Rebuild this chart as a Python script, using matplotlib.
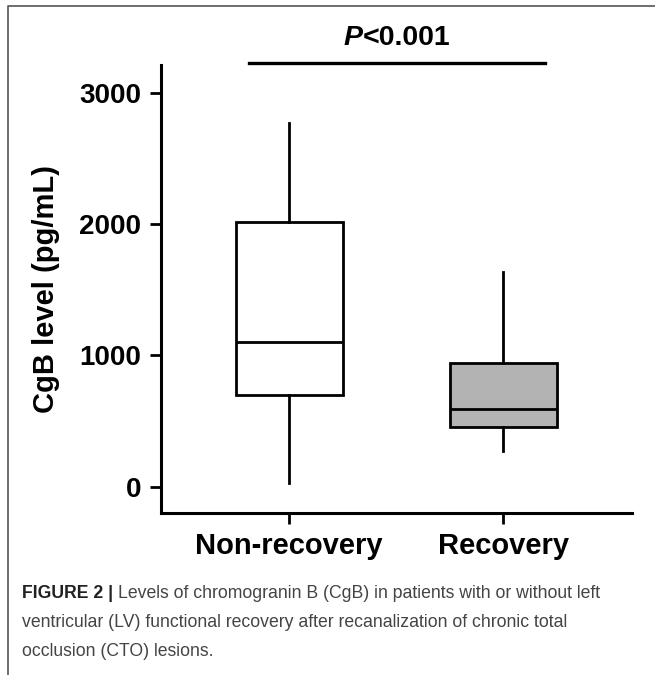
import matplotlib
matplotlib.use("Agg")
import matplotlib.pyplot as plt
from matplotlib import font_manager
from matplotlib.lines import Line2D
from matplotlib.transforms import offset_copy

# ------------------------------------------------------------
# Dados (CgB, pg/mL)
# ------------------------------------------------------------
groups = ["Non-recovery", "Recovery"]
q1 = [700, 455]
median = [1105, 595]
q3 = [2020, 940]
whislo = [30, 272]
whishi = [2770, 1633]
box_colors = ["white", "#b3b3b3"]

p_text = "<0.001"
ylabel = "CgB level (pg/mL)"
yticks = [0, 1000, 2000, 3000]
caption_bold = "FIGURE 2 | "
caption_lines = [
    "Levels of chromogranin B (CgB) in patients with or without left",
    "ventricular (LV) functional recovery after recanalization of chronic total",
    "occlusion (CTO) lesions.",
]

plt.rcParams["font.family"] = ["Liberation Sans", "DejaVu Sans"]

# fonte da legenda: versão estreita, se existir
nomes = {f.name for f in font_manager.fontManager.ttflist}
cap_family = "Liberation Sans Narrow" if "Liberation Sans Narrow" in nomes else "Liberation Sans"

fig = plt.figure(figsize=(6.55, 6.75), dpi=100)
ax = fig.add_axes([0.2453, 0.2404, 0.7191, 0.6633])

stats = []
for i in range(len(groups)):
    stats.append(dict(label=groups[i], q1=q1[i], med=median[i], q3=q3[i],
                      whislo=whislo[i], whishi=whishi[i], fliers=[]))

lw = 2.0
bp = ax.bxp(stats, positions=[1, 2], widths=0.5, patch_artist=True,
            showcaps=False, showfliers=False,
            boxprops=dict(linewidth=lw, edgecolor="black"),
            medianprops=dict(linewidth=lw, color="black"),
            whiskerprops=dict(linewidth=lw, color="black"))
for patch, c in zip(bp["boxes"], box_colors):
    patch.set_facecolor(c)

ax.set_xlim(0.40, 2.60)
ax.set_ylim(-198, 3212)
ax.set_yticks(yticks)
ax.set_yticklabels([str(t) for t in yticks], fontsize=20, fontweight="bold")
ax.set_xticks([1, 2])
ax.set_xticklabels(groups, fontsize=21, fontweight="bold")
ax.tick_params(axis="both", length=8, width=2, pad=6)
ax.set_ylabel(ylabel, fontsize=21, fontweight="bold", labelpad=14)

for s in ["top", "right"]:
    ax.spines[s].set_visible(False)
for s in ["left", "bottom"]:
    ax.spines[s].set_linewidth(2.2)

# barra de significância
ax.plot([0.813, 2.196], [3229, 3229], color="black", lw=2.4, clip_on=False)
tp = ax.text(1.5, 3363, "P", ha="left", va="baseline", fontsize=20.5,
             fontweight="bold", fontstyle="italic", clip_on=False,
             transform=offset_copy(ax.transData, fig=fig, x=-38, y=0, units="points"))
ax.annotate(p_text, xy=(1, 0), xycoords=tp, ha="left", va="bottom",
            fontsize=20.5, fontweight="bold", annotation_clip=False)

# moldura da figura (esquerda e topo)
fig.add_artist(Line2D([8 / 655, 8 / 655, 1.0], [0.0, 1 - 6 / 675, 1 - 6 / 675],
                      transform=fig.transFigure, color="#555555", lw=1.2))

# legenda da figura: tamanho ajustado para a 1a linha ir de x=22 a x=601
cap_color = "#444444"
base_y = [598, 627, 656]
x0, x_end = 22, 601


def draw_caption(size):
    arts = []
    t0 = fig.text(x0 / 655, 1 - base_y[0] / 675, caption_bold, fontsize=size,
                  fontweight="bold", color="#222222", va="baseline", family=cap_family)
    arts.append(t0)
    t1 = ax.annotate(caption_lines[0], xy=(1, 0), xycoords=t0, va="bottom",
                     fontsize=size, color=cap_color, family=cap_family,
                     annotation_clip=False)
    arts.append(t1)
    for line, y in zip(caption_lines[1:], base_y[1:]):
        arts.append(fig.text(x0 / 655, 1 - y / 675, line, fontsize=size,
                             color=cap_color, va="baseline", family=cap_family))
    return arts


size = 13.0
arts = draw_caption(size)
fig.canvas.draw()
w = arts[1].get_window_extent().x1 - x0
for a in arts:
    a.remove()
size = size * (x_end - x0) / w
draw_caption(size)

fig.savefig("out.png", dpi=100)
